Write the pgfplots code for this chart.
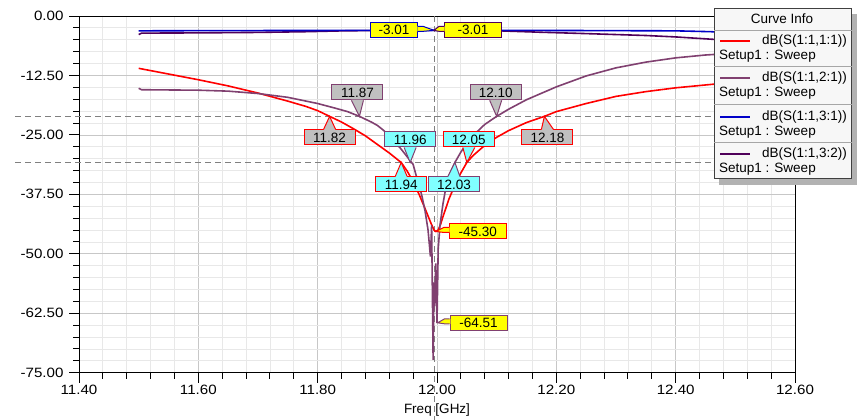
\documentclass[border=0pt]{standalone}
\usepackage{fontspec}
\setmainfont{Liberation Sans}
\newfontfamily\tickfont{Liberation Sans}[FakeStretch=1.12]
\usepackage{pgfplots}
\pgfplotsset{compat=1.18}
\usetikzlibrary{calc}
\definecolor{sA}{RGB}{255,0,0}
\definecolor{sB}{RGB}{128,64,112}
\definecolor{sC}{RGB}{0,0,200}
\definecolor{sD}{RGB}{80,0,90}
\definecolor{mkY}{RGB}{255,255,0}
\definecolor{mkC}{RGB}{128,255,255}
\definecolor{mkG}{RGB}{192,192,192}
\newcommand\lbfont{\fontsize{13.5}{15}\selectfont}
% #1 point name, #2 dx, #3 dy, #4 border, #5 fill, #6 text
\newcommand{\mkdn}[6]{%
  \node[draw=#4, fill=#5, line width=1pt, inner sep=0pt, minimum width=51pt, minimum height=15pt, font=\lbfont] (B) at ($(#1)+(#2,#3)$) {#6};
  \fill[#5] ($(B.south)+(-6,0.7)$) -- (#1) -- ($(B.south)+(6,0.7)$) -- cycle;
  \draw[#4, line width=1pt] ($(B.south)+(-6,0)$) -- (#1) -- ($(B.south)+(6,0)$);
}
\newcommand{\mkup}[6]{%
  \node[draw=#4, fill=#5, line width=1pt, inner sep=0pt, minimum width=51pt, minimum height=15pt, font=\lbfont] (B) at ($(#1)+(#2,#3)$) {#6};
  \fill[#5] ($(B.north)+(-6,-0.7)$) -- (#1) -- ($(B.north)+(6,-0.7)$) -- cycle;
  \draw[#4, line width=1pt] ($(B.north)+(-6,0)$) -- (#1) -- ($(B.north)+(6,0)$);
}
\newcommand{\mkl}[6]{%
  \node[draw=#4, fill=#5, line width=1pt, inner sep=0pt, minimum width=57pt, minimum height=15pt, font=\lbfont] (B) at ($(#1)+(#2,#3)$) {#6};
  \fill[#5] ($(B.west)+(0.7,4)$) -- ($(B.west)+(-5,4)$) -- (#1) -- ($(B.west)+(-5,-1)$) -- ($(B.west)+(0.7,-1)$) -- cycle;
  \draw[#4, line width=1pt] ($(B.west)+(0,4)$) -- ($(B.west)+(-5,4)$) -- (#1) -- ($(B.west)+(-5,-1)$) -- ($(B.west)+(0,-1)$);
}
\newcommand{\mkr}[6]{%
  \node[draw=#4, fill=#5, line width=1pt, inner sep=0pt, minimum width=47pt, minimum height=15pt, font=\lbfont] (B) at ($(#1)+(#2,#3)$) {#6};
  \fill[#5] ($(B.east)+(-0.7,4)$) -- ($(B.east)+(5,4)$) -- (#1) -- ($(B.east)+(5,-1)$) -- ($(B.east)+(-0.7,-1)$) -- cycle;
  \draw[#4, line width=1pt] ($(B.east)+(0,4)$) -- ($(B.east)+(5,4)$) -- (#1) -- ($(B.east)+(5,-1)$) -- ($(B.east)+(0,-1)$);
}
\begin{document}
\begin{tikzpicture}[x=1pt,y=1pt]
\useasboundingbox (0,0) rectangle (859,420);
\fill[white] (0,0) rectangle (859,420);
\begin{axis}[
  at={(79pt,47.3pt)}, anchor=south west,
  width=716pt, height=356.7pt, scale only axis,
  xmin=11.4, xmax=12.6, ymin=-75, ymax=0,
  xtick={11.4,11.6,11.8,12.0,12.2,12.4,12.6},
  ytick={-75,-62.5,-50,-37.5,-25,-12.5,0},
  minor x tick num=4, minor y tick num=4,
  grid=both,
  major grid style={color=black!22, line width=0.8pt},
  minor grid style={color=black!9, line width=0.8pt},
  axis line style={black, line width=1pt},
  tick style={black, line width=1pt},
  major tick length=10pt, minor tick length=6pt,
  tick align=outside, tick pos=left,
  clip=false,
  /pgf/number format/assume math mode=true,
  /pgf/number format/.cd, fixed, fixed zerofill, precision=2, /pgfplots/.cd,
  ticklabel style={font=\tickfont\fontsize{13.5}{15}\selectfont},
  yticklabel style={xshift=-2pt},
  xticklabel style={yshift=1pt},
]
% dashed marker lines
\draw[black!50, line width=1pt, dash pattern=on 6pt off 4pt] (axis cs:11.293,-21.1) -- (axis cs:12.6,-21.1);
\draw[black!50, line width=1pt, dash pattern=on 6pt off 4pt] (axis cs:11.293,-30.8) -- (axis cs:12.6,-30.8);
\draw[black!50, line width=1pt, dash pattern=on 6pt off 4pt] (axis cs:11.995,0) -- (axis cs:11.995,-84.9);

\addplot[sA, line width=1.6pt] coordinates {
(11.50,-11.0) (11.55,-12.2) (11.60,-13.4) (11.65,-14.7) (11.70,-16.2) (11.75,-17.9)
(11.78,-19.0) (11.80,-19.9) (11.82,-21.1) (11.84,-22.3) (11.86,-23.7) (11.88,-25.2)
(11.90,-27.0) (11.92,-28.8) (11.94,-30.8) (11.95,-32.6) (11.96,-34.8) (11.97,-37.5)
(11.98,-40.5) (11.99,-43.6) (11.995,-45.0) (11.998,-45.3) (12.002,-45.0) (12.006,-43.8)
(12.01,-42.2) (12.02,-38.5) (12.03,-35.5) (12.04,-33.0) (12.05,-30.8) (12.06,-29.4)
(12.08,-27.2) (12.10,-25.5) (12.12,-24.1) (12.15,-22.4) (12.18,-21.1) (12.20,-20.1)
(12.25,-18.4) (12.30,-16.9) (12.35,-15.9) (12.40,-15.1) (12.45,-14.5) (12.50,-13.9)
};
\addplot[sB, line width=1.6pt] coordinates {
(11.50,-15.2) (11.505,-15.5) (11.60,-15.6) (11.65,-15.8) (11.70,-16.3) (11.75,-17.1)
(11.80,-18.4) (11.83,-19.4) (11.85,-20.1) (11.87,-21.1) (11.88,-21.7) (11.89,-22.3)
(11.90,-23.0) (11.91,-24.0) (11.92,-25.2) (11.93,-26.6) (11.94,-28.0) (11.95,-29.6)
(11.96,-31.2) (11.965,-33.5) (11.97,-35.5) (11.975,-38.0) (11.98,-41.0) (11.985,-45.0)
(11.989,-50.6) (11.991,-44.0) (11.9935,-72.3) (11.995,-56.0) (11.996,-61.0) (11.998,-52.0)
(12.000,-64.5) (12.002,-49.0) (12.005,-44.0) (12.01,-39.5) (12.015,-36.0) (12.02,-33.6)
(12.03,-30.8) (12.04,-28.6) (12.05,-26.8) (12.06,-25.2) (12.08,-22.8) (12.10,-21.1)
(12.12,-19.6) (12.15,-17.6) (12.20,-14.9) (12.25,-12.6) (12.30,-10.9) (12.35,-9.7)
(12.40,-8.8) (12.45,-8.2) (12.50,-7.8)
};
\addplot[sD, line width=1.6pt] coordinates {
(11.50,-3.9) (11.505,-3.6) (11.60,-3.55) (11.70,-3.45) (11.78,-3.3) (11.85,-3.1)
(12.00,-3.01) (12.10,-3.1) (12.17,-3.4) (12.25,-3.7) (12.30,-3.9) (12.35,-4.1)
(12.40,-4.4) (12.45,-4.8) (12.50,-5.2)
};
\addplot[sC, line width=1.6pt] coordinates {
(11.50,-3.12) (11.60,-3.08) (11.80,-3.04) (12.00,-3.01) (12.20,-3.04) (12.40,-3.12)
(12.46,-3.3) (12.50,-3.6)
};
\coordinate (m1) at (axis cs:11.995,-3.01);
\coordinate (m2) at (axis cs:11.87,-21.1);
\coordinate (m3) at (axis cs:11.82,-21.1);
\coordinate (m4) at (axis cs:11.955,-30.8);
\coordinate (m5) at (axis cs:11.94,-30.8);
\coordinate (m6) at (axis cs:12.05,-30.8);
\coordinate (m7) at (axis cs:12.03,-30.8);
\coordinate (m8) at (axis cs:12.10,-21.1);
\coordinate (m9) at (axis cs:12.18,-21.1);
\coordinate (m10) at (axis cs:11.998,-45.3);
\coordinate (m11) at (axis cs:12.001,-64.51);
\end{axis}
% marker labels
\mkr{m1}{-40}{0}{sC}{mkY}{-3.01}
\mkl{m1}{39}{0}{sD}{mkY}{-3.01}
\mkdn{m2}{-2}{24}{sB}{mkG}{11.87}
\mkup{m3}{0}{-21}{sA}{mkG}{11.82}
\mkdn{m4}{0}{23}{sB}{mkC}{11.96}
\mkup{m5}{0}{-22}{sA}{mkC}{11.94}
\mkdn{m6}{2}{23}{sA}{mkC}{12.05}
\mkup{m7}{-1}{-22}{sB}{mkC}{12.03}
\mkdn{m8}{-1}{24}{sB}{mkG}{12.10}
\mkup{m9}{3}{-21}{sA}{mkG}{12.18}
\mkl{m10}{42}{0}{sA}{mkY}{-45.30}
\mkl{m11}{41}{0}{sB}{mkY}{-64.51}
% x label
\node[font=\fontsize{13.5}{15}\selectfont] at (437,10) {Freq [GHz]};
% legend
\fill[black!30] (719,235) rectangle (857,406);
\fill[black!3] (714,241) rectangle (851.7,411.7);
\draw[black!75, line width=1pt] (714,241) rectangle (851.7,411.7);
\foreach \yy in {389.3,353.3,315,277.7} \draw[black!35, line width=1pt] (714,\yy) -- (851.7,\yy);
\node[font=\fontsize{13.5}{15}\selectfont] at (782,401) {Curve Info};
\foreach \yy/\cc/\tt in {379/sA/{dB(S(1:1,1:1))}, 341.7/sB/{dB(S(1:1,2:1))}, 303.3/sC/{dB(S(1:1,3:1))}, 265.7/sD/{dB(S(1:1,3:2))}} {
  \draw[\cc, line width=2pt] (720,\yy) -- (750,\yy);
  \node[anchor=east, inner sep=0pt, font=\fontsize{13.5}{15}\selectfont] at (847,\yy) {\tt};
  \node[anchor=west, inner sep=0pt, font=\fontsize{13.5}{15}\selectfont] at (719,\yy-15) {Setup1 : Sweep};
}
\end{tikzpicture}
\end{document}
